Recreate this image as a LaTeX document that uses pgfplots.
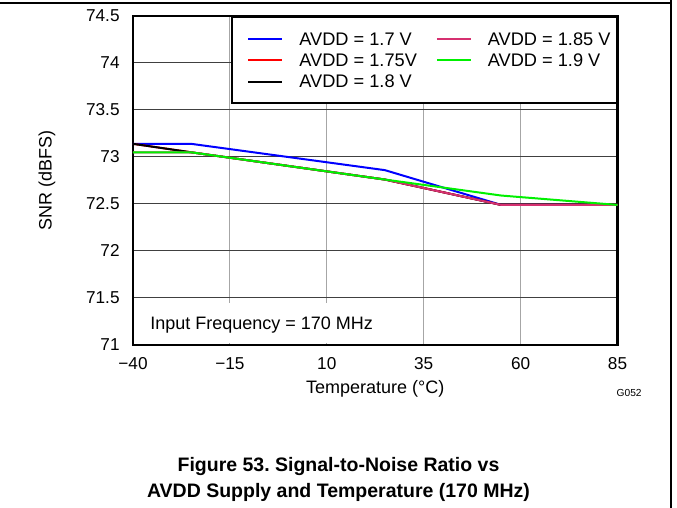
\documentclass[border=0pt]{standalone}
\usepackage{fontspec}
\setmainfont{Liberation Sans}
\usepackage{pgfplots}
\pgfplotsset{compat=1.18}
\definecolor{cblue}{RGB}{0,0,255}
\definecolor{cred}{RGB}{255,0,0}
\definecolor{cmag}{RGB}{214,48,112}
\definecolor{cgreen}{RGB}{0,240,0}
\pgfplotsset{
 limgA/.style={legend image code/.code={\path (-4.5pt,0pt); \draw[##1] (0pt,0pt) -- (17pt,0pt); \path (25pt,0pt);}},
 limgB/.style={legend image code/.code={\draw[##1] (0pt,0pt) -- (17pt,0pt); \path (25pt,0pt);}},
}
\begin{document}
\frenchspacing
\begin{tikzpicture}
\useasboundingbox (0,0) rectangle (338.5pt,254pt);
\draw[line width=0.7pt] (0,252.5pt) -- (335.5pt,252.5pt);
\draw[line width=0.7pt] (335.5pt,0) -- (335.5pt,254pt);
\begin{axis}[
 at={(66.5pt,81.5pt)}, anchor=south west,
 scale only axis, width=242.25pt, height=164.5pt,
 xmin=-40, xmax=85, ymin=71, ymax=74.5,
 xtick={-40,-15,10,35,60,85},
 xticklabels={−40,−15,10,35,60,85},
 ytick={71,71.5,72,72.5,73,73.5,74,74.5},
 yticklabels={71,71.5,72,72.5,73,73.5,74,74.5},
 major tick length=0pt,
 grid=major,
 x grid style={gray!70, line width=0.5pt},
 y grid style={black!75, line width=0.5pt},
 axis line style={line width=1.3pt},
 tick label style={font=\fontsize{8.6}{10}\selectfont, inner sep=0pt},
 xticklabel style={yshift=-6pt},
 yticklabel style={xshift=-6.5pt},
 xlabel={Temperature (°C)},
 ylabel={SNR (dBFS)},
 every axis x label/.style={at={(axis description cs:0.5,0)}, anchor=north, yshift=-17.5pt, inner sep=0pt, font=\fontsize{9}{10}\selectfont},
 every axis y label/.style={at={(axis description cs:0,0.5)}, xshift=-43pt, rotate=90, anchor=center, inner sep=0pt, font=\fontsize{9}{10}\selectfont},
 legend columns=2,
 legend cell align=left,
 limgB,
 legend style={at={(1,1)}, anchor=north east, draw=black, line width=1pt, fill=white,
   font=\fontsize{9.1}{10}\selectfont, inner xsep=3pt, inner ysep=7.7pt,
   nodes={inner sep=0pt, text depth=0pt}, row sep=4.35pt,
   /tikz/every even column/.append style={column sep=9.5pt}},
 clip=false,
]
\addplot[cblue, line width=1pt, forget plot] coordinates {(-40,73.14) (-25,73.14) (25,72.86) (55,72.49) (85,72.49)};
\addplot[cred, line width=1pt, forget plot] coordinates {(-40,73.14) (-25,73.05) (25,72.76) (55,72.49) (85,72.49)};
\addplot[black, line width=1pt, forget plot] coordinates {(-40,73.14) (-25,73.05) (25,72.76) (55,72.49) (85,72.49)};
\addplot[cmag, line width=1pt, forget plot] coordinates {(-40,73.05) (-25,73.05) (25,72.76) (55,72.49) (85,72.49)};
\addplot[cgreen, line width=1pt, forget plot] coordinates {(-40,73.05) (-25,73.05) (25,72.76) (55,72.59) (85,72.49)};
\addlegendimage{cblue, line width=1pt, limgA}
\addlegendentry{AVDD = 1.7 V}
\addlegendimage{cmag, line width=1pt, limgB}
\addlegendentry{AVDD = 1.85 V}
\addlegendimage{cred, line width=1pt, limgA}
\addlegendentry{AVDD = 1.75V}
\addlegendimage{cgreen, line width=1pt, limgB}
\addlegendentry{AVDD = 1.9 V}
\addlegendimage{black, line width=1pt, limgA}
\addlegendentry{AVDD = 1.8 V}
\node[fill=white, anchor=south west, inner xsep=7.85pt, inner ysep=6.85pt, text depth=0pt, font=\fontsize{9}{10}\selectfont] at ([xshift=0.65pt,yshift=0.65pt]rel axis cs:0,0) {Input Frequency = 170 MHz};
\end{axis}
\node[anchor=base east, inner sep=0pt, font=\fontsize{5.1}{6}\selectfont] at (321pt,55.5pt) {G052};
\node[anchor=base, inner sep=0pt, font=\bfseries\fontsize{9.75}{13}\selectfont] at (169.25pt,18pt) {Figure 53. Signal-to-Noise Ratio vs};
\node[anchor=base, inner sep=0pt, font=\bfseries\fontsize{9.75}{13}\selectfont] at (169.25pt,5pt) {AVDD Supply and Temperature (170 MHz)};
\end{tikzpicture}
\end{document}
